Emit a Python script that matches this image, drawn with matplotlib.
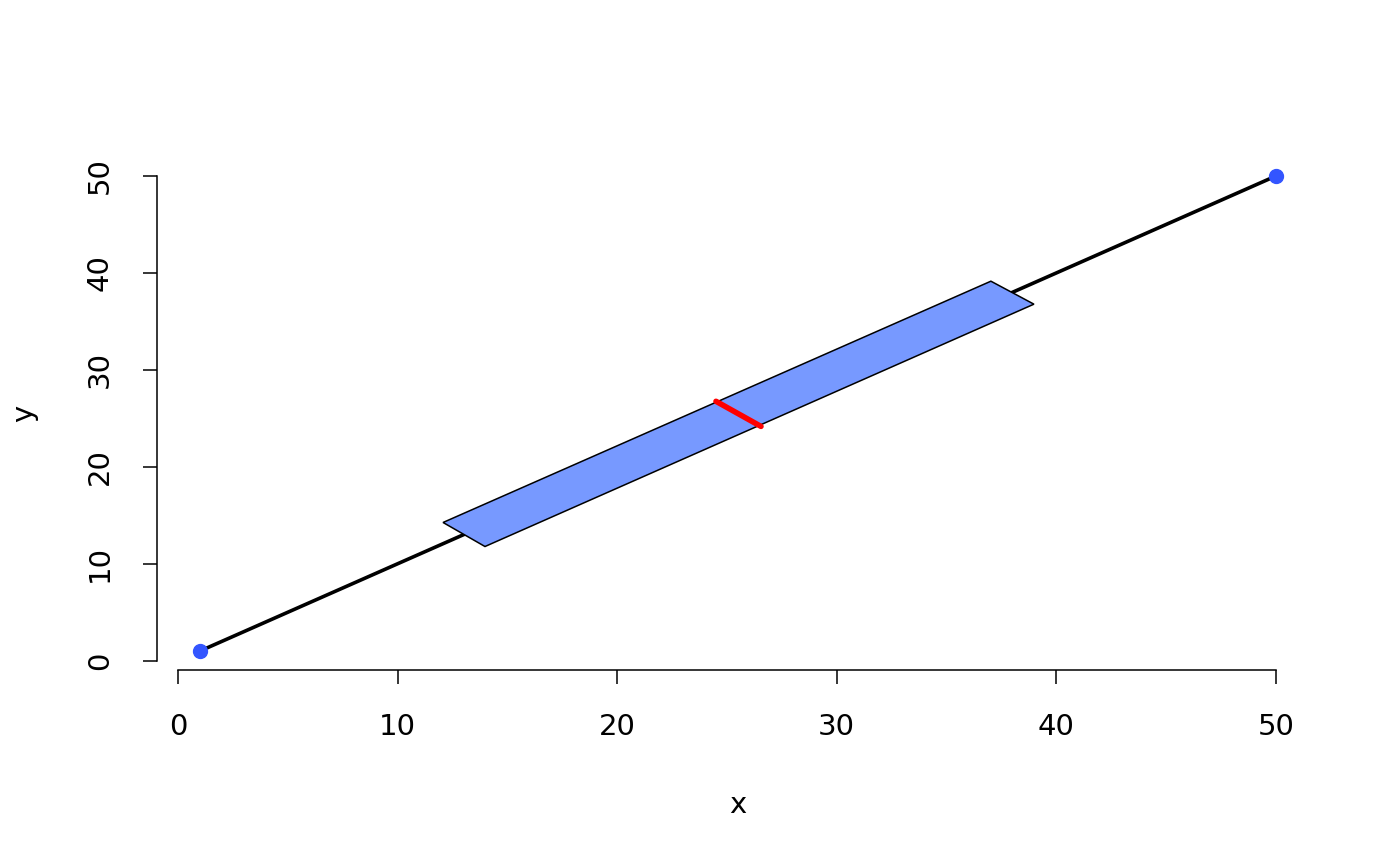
import matplotlib
matplotlib.use("Agg")
import matplotlib.pyplot as plt
from matplotlib.patches import Polygon

# === DATA ===
line_x = [1, 50]
line_y = [1, 50]
band_x = [12.07, 13.98, 38.98, 37.02]
band_y = [14.26, 11.78, 36.78, 39.15]
cut_x = [24.5, 26.55]
cut_y = [26.76, 24.17]
x_ticks = [0, 10, 20, 30, 40, 50]
y_ticks = [0, 10, 20, 30, 40, 50]

# === STYLE ===
FONT_SIZE = 21
POINT_COLOR = '#3355FF'
BAND_COLOR = '#7799FF'

fig = plt.figure(figsize=(14, 8.66), dpi=100)
ax = fig.add_axes([0.1121, 0.2263, 0.83, 0.5924])

ax.plot(line_x, line_y, color='black', linewidth=2.6, zorder=1)
ax.plot(line_x, line_y, 'o', color=POINT_COLOR, markersize=10, zorder=4)

band = Polygon(list(zip(band_x, band_y)), closed=True, facecolor=BAND_COLOR,
               edgecolor='black', linewidth=1.1, zorder=2)
ax.add_patch(band)
ax.plot(cut_x, cut_y, color='red', linewidth=4.0, solid_capstyle='round',
        zorder=3)

# R-like padding of 4% around data range
ax.set_xlim(-0.96, 51.96)
ax.set_ylim(-0.96, 51.96)

for side in ['top', 'right']:
    ax.spines[side].set_visible(False)
ax.spines['left'].set_bounds(0, 50)
ax.spines['bottom'].set_bounds(0, 50)
ax.spines['left'].set_linewidth(1.1)
ax.spines['bottom'].set_linewidth(1.1)

ax.set_xticks(x_ticks)
ax.set_yticks(y_ticks)
ax.set_yticklabels([str(v) for v in y_ticks], rotation=90, va='center')
ax.tick_params(direction='out', length=10, width=1.1, labelsize=FONT_SIZE,
               pad=21)

ax.set_xlabel('x', fontsize=FONT_SIZE, labelpad=36)
ax.set_ylabel('y', fontsize=FONT_SIZE, labelpad=34)

fig.savefig('out.png', dpi=100)
